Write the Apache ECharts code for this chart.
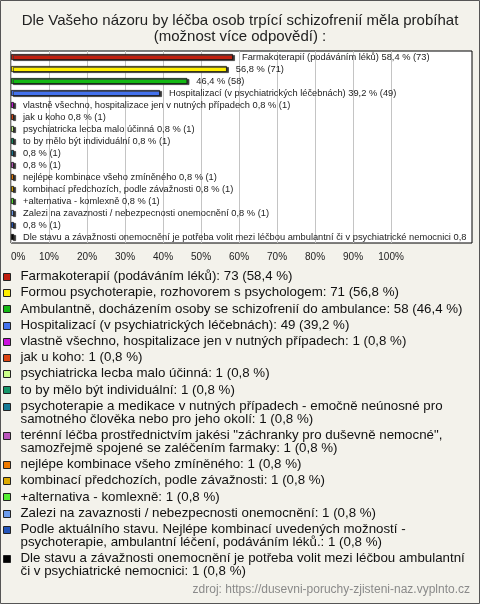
<!DOCTYPE html>
<html>
<head>
<meta charset="utf-8">
<script src="https://cdn.jsdelivr.net/npm/echarts@6/dist/echarts.min.js"></script>
<style>
html,body{margin:0;padding:0;background:#f3f2eb;}
#chart{width:480px;height:604px;}
</style>
</head>
<body>
<div id="chart"></div>
<script>
const titleText = 'Dle Vašeho názoru by léčba osob trpící schizofrenií měla probíhat\n(možnost více odpovědí) :';
const categories = [
  'Farmakoterapií (podáváním léků)',
  'Formou psychoterapie, rozhovorem s psychologem',
  'Ambulantně, docházením osoby se schizofrenií do ambulance',
  'Hospitalizací (v psychiatrických léčebnách)',
  'vlastně všechno, hospitalizace jen v nutných případech',
  'jak u koho',
  'psychiatricka lecba malo účinná',
  'to by mělo být individuální',
  'psychoterapie a medikace v nutných případech - emočně neúnosné pro samotného člověka nebo pro jeho okolí',
  'terénní léčba prostřednictvím jakési "záchranky pro duševně nemocné", samozřejmě spojené se zaléčením farmaky',
  'nejlépe kombinace všeho zmíněného',
  'kombinací předchozích, podle závažnosti',
  '+alternativa - komlexně',
  'Zalezi na zavaznosti / nebezpecnosti onemocnění',
  'Podle aktuálního stavu. Nejlépe kombinací uvedených možností - psychoterapie, ambulantní léčení, podáváním léků.',
  'Dle stavu a závažnosti onemocnění je potřeba volit mezi léčbou ambulantní či v psychiatrické nemocnici'
];
const counts = [73, 71, 58, 49, 1, 1, 1, 1, 1, 1, 1, 1, 1, 1, 1, 1];
const percents = [58.4, 56.8, 46.4, 39.2, 0.8, 0.8, 0.8, 0.8, 0.8, 0.8, 0.8, 0.8, 0.8, 0.8, 0.8, 0.8];
const nameInBarLabel = [true, false, false, true, true, true, true, true, false, false, true, true, true, true, false, true];
const colors = ['#c01e0e', '#ffee00', '#14b814', '#4472ee', '#cc11dd', '#dd4411', '#ccff88', '#16966a',
                '#167a96', '#bb55bb', '#ee7a00', '#ddaa00', '#55ee33', '#6c9cec', '#2455bb', '#000000'];
const xTickValues = [0, 10, 20, 30, 40, 50, 60, 70, 80, 90, 100];
const sourceText = 'zdroj: https://dusevni-poruchy-zjisteni-naz.vyplnto.cz';

const fmt = v => String(v).replace('.', ',');
const FONT = '"Liberation Sans", Arial, sans-serif';

const measureCtx = document.createElement('canvas').getContext('2d');
function textWidth(t, size) {
  measureCtx.font = size + 'px ' + FONT;
  return measureCtx.measureText(t).width;
}
function wrapLines(t, size, maxW) {
  const words = t.split(' ');
  const lines = [];
  let cur = '';
  words.forEach(w => {
    const test = cur ? cur + ' ' + w : w;
    if (cur && textWidth(test, size) > maxW) { lines.push(cur); cur = w; } else { cur = test; }
  });
  if (cur) lines.push(cur);
  return lines;
}
function truncateText(t, size, maxW) {
  if (textWidth(t, size) <= maxW) return t;
  let s = t;
  while (s.length && textWidth(s, size) > maxW) s = s.slice(0, -1);
  return s;
}

const LABEL_SIZE = 9.3;
const series = categories.map((name, i) => ({
  type: 'bar',
  name: name,
  barWidth: 6,
  barGap: '-100%',
  data: categories.map((c, j) => (j === i ? percents[i] : null)),
  itemStyle: {
    color: colors[i],
    borderColor: '#111',
    borderWidth: 0.8,
    shadowColor: '#3a3a3a',
    shadowOffsetX: 2,
    shadowOffsetY: 1,
    shadowBlur: 0
  },
  label: {
    show: true,
    position: 'right',
    distance: 9,
    fontFamily: FONT,
    fontSize: LABEL_SIZE,
    color: '#222',
    formatter: () => truncateText((nameInBarLabel[i] ? name + ' ' : '') + fmt(percents[i]) + ' % (' + counts[i] + ')', LABEL_SIZE, 452)
  },
  emphasis: { disabled: true },
  animation: false
}));

const maxTicks = 14;
const splitColors = [];
for (let k = 0; k < maxTicks; k++) splitColors.push(k < xTickValues.length ? '#c4c4c4' : 'rgba(0,0,0,0)');

// Legend built as graphic elements (marker aligned with first text line)
const LEG_SIZE = 13.3, LEG_LINE = 13, LEG_GAP = 3.2, LEG_TOP = 270;
const legendChildren = [];
let ly = LEG_TOP;
categories.forEach((name, i) => {
  const lines = wrapLines(name + ': ' + counts[i] + ' (' + fmt(percents[i]) + ' %)', LEG_SIZE, 451);
  legendChildren.push({
    type: 'rect',
    shape: { x: 3.5, y: Math.round(ly + LEG_LINE / 2 - 3.5) + 0.5, width: 7, height: 7 },
    style: { fill: colors[i], stroke: '#222', lineWidth: 1 },
    silent: true
  });
  legendChildren.push({
    type: 'text',
    x: 20.5, y: ly,
    style: { text: lines.join('\n'), fontFamily: FONT, fontSize: LEG_SIZE, lineHeight: LEG_LINE, fill: '#111', verticalAlign: 'top', align: 'left' },
    silent: true
  });
  ly += lines.length * LEG_LINE + LEG_GAP;
});

const chart = echarts.init(document.getElementById('chart'), null, { renderer: 'canvas' });
chart.setOption({
  backgroundColor: '#f3f2eb',
  animation: false,
  title: {
    text: titleText,
    left: 'center',
    top: 13,
    padding: [0, 0, 0, 0],
    textStyle: { fontFamily: FONT, fontSize: 15, fontWeight: 'normal', color: '#222', lineHeight: 16 }
  },
  grid: {
    left: 11, top: 51, width: 461, height: 192,
    show: true, backgroundColor: '#ffffff', borderColor: '#000', borderWidth: 1,
    containLabel: false
  },
  xAxis: {
    type: 'value',
    min: 0,
    max: 121.3,
    interval: 10,
    axisLine: { show: false },
    axisTick: { show: false },
    splitLine: { show: true, lineStyle: { color: splitColors, width: 1 } },
    axisLabel: {
      margin: 9,
      fontFamily: FONT,
      fontSize: 10,
      color: '#222',
      alignMinLabel: 'left',
      formatter: v => (xTickValues.indexOf(v) >= 0 ? v + '%' : '')
    }
  },
  yAxis: {
    type: 'category',
    data: categories,
    inverse: true,
    axisLine: { show: false },
    axisTick: { show: false },
    axisLabel: { show: false },
    splitLine: { show: false }
  },
  graphic: [
    {
      type: 'rect',
      shape: { x: 0.5, y: 0.5, width: 479, height: 603 },
      style: { fill: null, stroke: '#555', lineWidth: 1 },
      silent: true
    },
    {
      type: 'group',
      children: legendChildren,
      silent: true
    },
    {
      type: 'text',
      right: 10,
      top: 584,
      style: { text: sourceText, fontFamily: FONT, fontSize: 12, fill: '#8a8a8a' },
      silent: true
    }
  ],
  series: series
});
</script>
</body>
</html>
